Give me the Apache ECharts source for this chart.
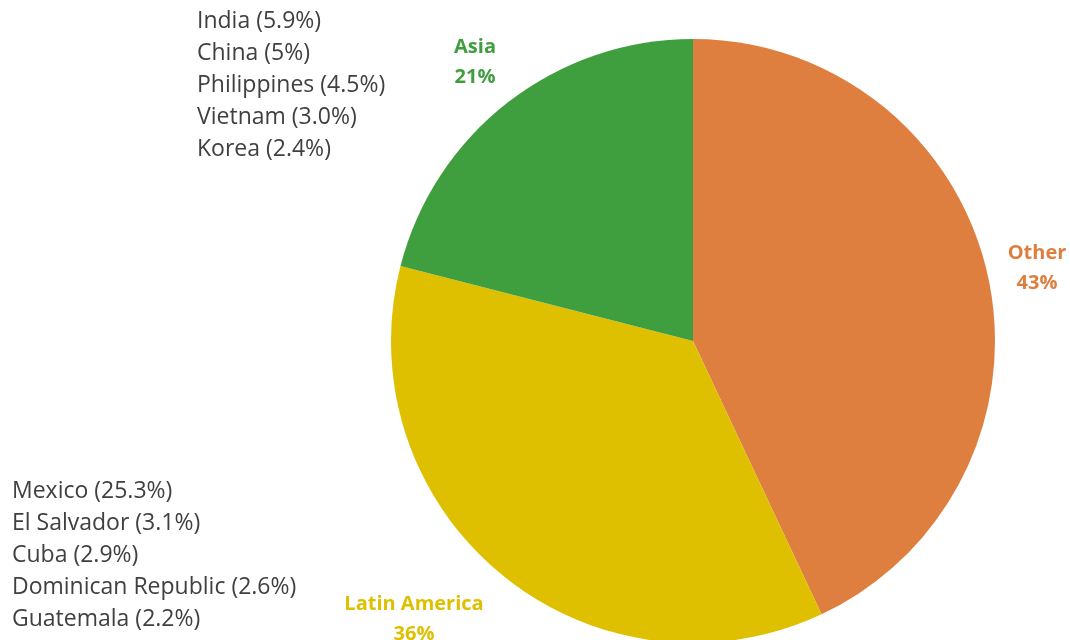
<!DOCTYPE html>
<html>
<head>
<meta charset="utf-8">
<script src="https://cdn.jsdelivr.net/npm/echarts@6/dist/echarts.min.js"></script>
<style>
  html, body { margin: 0; padding: 0; background: #ffffff; }
  #chart { width: 1070px; height: 640px; }
</style>
</head>
<body>
<div id="chart"></div>
<script>
// Region shares (percent)
const regions = ['Other', 'Latin America', 'Asia'];
const regionShares = [43, 36, 21];
const regionColors = ['#df7f3f', '#dfc000', '#3f9f3f'];

// Top countries per region (percent)
const asiaCountries = ['India', 'China', 'Philippines', 'Vietnam', 'Korea'];
const asiaShares = ['5.9', '5', '4.5', '3.0', '2.4'];
const latinCountries = ['Mexico', 'El Salvador', 'Cuba', 'Dominican Republic', 'Guatemala'];
const latinShares = ['25.3', '3.1', '2.9', '2.6', '2.2'];

const FONT = '"Open Sans", Lato, sans-serif';

const chart = echarts.init(document.getElementById('chart'), null, { renderer: 'canvas' });

// Label anchor spots for each region name
const labelSpots = {
  'Other': [1037, 268],
  'Latin America': [414, 619],
  'Asia': [475, 62]
};

function countryList(names, shares, left, top) {
  return {
    type: 'text',
    left: left,
    top: top,
    style: {
      text: names.map((n, i) => n + ' (' + shares[i] + '%)').join('\n'),
      font: '23px ' + FONT,
      fill: '#404040',
      lineHeight: 32.2
    }
  };
}

chart.setOption({
  backgroundColor: '#ffffff',
  animation: false,
  graphic: [
    countryList(asiaCountries, asiaShares, 197, 5),
    countryList(latinCountries, latinShares, 12, 475)
  ],
  series: [{
    type: 'pie',
    center: [693, 341],
    radius: 302,
    startAngle: 90,
    clockwise: true,
    silent: true,
    itemStyle: { borderWidth: 0 },
    labelLine: { show: false },
    label: {
      show: true,
      position: 'outside',
      overflow: 'none',
      formatter: p => p.name + '\n' + p.value + '%',
      fontFamily: FONT,
      fontWeight: 'bold',
      fontSize: 20,
      lineHeight: 30,
      align: 'center'
    },
    labelLayout: function (params) {
      const name = regions[params.dataIndex];
      const spot = labelSpots[name];
      return { x: spot[0], y: spot[1], align: 'center', verticalAlign: 'middle' };
    },
    data: regions.map((r, i) => ({
      name: r,
      value: regionShares[i],
      itemStyle: { color: regionColors[i] },
      label: { color: regionColors[i] }
    }))
  }]
});
</script>
</body>
</html>
